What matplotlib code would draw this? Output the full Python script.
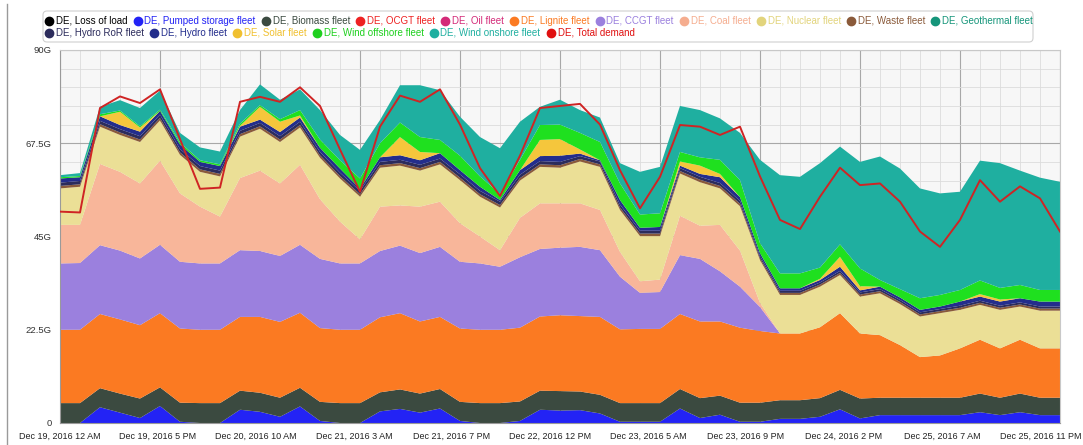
import matplotlib
matplotlib.use("Agg")
import matplotlib.pyplot as plt
from matplotlib.lines import Line2D
from matplotlib.patches import FancyBboxPatch
from matplotlib.transforms import IdentityTransform, ScaledTranslation
import numpy as np
import pandas as pd

plt.rcParams['font.family'] = ['Liberation Sans', 'DejaVu Sans']

# one sample every fifth of a tick interval, Dec 19 00:00 .. Dec 25 23:00
times = pd.date_range('2016-12-19 00:00', '2016-12-25 23:00', periods=51)

# generation per fleet in GW (stack order, bottom first)
pumped = [0, 0, 3.8, 2.5, 1.2, 4.1, 0.3, 0, 0, 3.2, 2.7, 1.5, 4.0,
          0.5, 0, 0, 2.8, 3.4, 2.5, 3.5, 0.5, 0, 0, 0.5, 3.2, 3.0,
          3.1, 2.3, 0.3, 0.3, 0.3, 3.5, 1.2, 2.0, 0.3, 0.3, 1.0, 1.0,
          1.5, 3.3, 1.1, 1.9, 1.9, 1.9, 1.9, 1.9, 2.6, 1.9, 2.6, 1.9, 1.9]
biomass = [4.8, 4.8, 4.6, 4.6, 4.7, 4.5, 4.6, 4.8, 4.8, 4.6, 4.6, 4.6, 4.5,
           4.6, 4.8, 4.8, 4.6, 4.7, 4.6, 4.7, 4.6, 4.8, 4.8, 4.7, 4.6, 4.7,
           4.5, 4.5, 4.5, 4.5, 4.5, 4.7, 4.8, 4.6, 4.6, 4.6, 4.5, 4.5,
           4.5, 4.7, 4.8, 4.2, 4.2, 4.2, 4.2, 4.2, 4.5, 4.2, 4.5, 4.2, 4.2]
lignite = [17.7, 17.7, 17.9, 17.9, 17.7, 17.9, 17.9, 17.7, 17.7, 17.8, 18.3, 18.3, 18.1,
           17.8, 17.7, 17.7, 18.1, 18.4, 17.4, 17.4, 17.7, 17.7, 17.7, 17.8, 17.9, 18.3,
           18.2, 18.8, 17.8, 17.9, 17.9, 18.1, 18.5, 17.9, 18.1, 17.3, 16.1, 16.1,
           17.1, 18.5, 15.7, 15.1, 12.7, 9.8, 10.2, 11.9, 13.0, 11.9, 13.0, 11.9, 11.9]
ccgt = [16.0, 16.1, 16.6, 16.6, 16.1, 16.5, 16.1, 16.0, 16.0, 16.1, 15.9, 15.9, 16.4,
        16.7, 16.0, 16.0, 16.0, 16.3, 16.5, 16.9, 16.1, 16.0, 15.2, 17.0, 16.3, 16.3,
        16.7, 16.1, 12.7, 8.7, 8.9, 14.2, 15.1, 12.1, 9.9, 5.8, 0, 0,
        0, 0, 0, 0, 0, 0, 0, 0, 0, 0, 0, 0, 0]
coal = [9.3, 9.2, 19.6, 19.0, 18.1, 20.3, 16.5, 13.7, 11.3, 17.4, 19.4, 17.5, 19.3,
        14.4, 10.1, 5.8, 10.7, 9.7, 11.2, 10.9, 9.3, 6.5, 4.0, 9.5, 11.0, 10.7,
        10.5, 9.7, 6.0, 2.8, 3.0, 9.5, 8.0, 11.2, 8.7, 1.0, 0, 0,
        0, 0, 0, 0, 0, 0, 0, 0, 0, 0, 0, 0, 0]
nuclear = [8.8, 9.2, 9.0, 8.9, 10.0, 9.7, 9.3, 8.4, 9.7, 10.0, 10.1, 10.0, 9.0,
           10.0, 10.4, 10.3, 9.4, 9.6, 8.7, 9.0, 10.4, 9.6, 10.3, 9.0, 8.8, 8.6,
           10.1, 10.4, 10.1, 10.9, 10.5, 10.2, 10.5, 8.8, 10.7, 10.3, 9.3, 9.3,
           9.8, 9.2, 8.9, 10.1, 9.9, 9.8, 10.2, 9.3, 8.4, 9.3, 8.0, 9.1, 9.1]
waste = [0.6] * 35 + [0.5] * 16
hydro_ror = [0.8] * 26 + [0.7] * 9 + [0.5] * 16
hydro = [1.0, 0.9, 1.1, 1.0, 1.1, 0.9, 1.1, 1.0, 1.1, 1.0, 0.8, 1.0, 1.0,
         1.0, 1.0, 0.5, 1.1, 1.1, 1.1, 1.3, 1.0, 1.0, 0.4, 1.1, 1.2, 1.5,
         0.6, 0.3, 1.1, 0.7, 0.9, 0.6, 0.7, 1.4, 0.9, 0.7, 0.6, 0.6,
         0.6, 1.0, 0.5, 0.6, 0.6, 0.6, 0.6, 1.0, 1.0, 1.0, 1.0, 1.2, 1.2]
solar = [0, 0, 0, 3.2, 1.0, 0, 0, 0, 0, 0.2, 3.1, 2.5, 0.5,
         0, 0, 0, 0, 4.4, 2.0, 0, 0, 0, 0, 0, 3.9, 4.0,
         1.0, 0, 0, 0, 0, 1.0, 2.0, 0.8, 0, 0, 0, 0,
         0.3, 2.4, 1.0, 0, 0, 0, 0, 0, 0.6, 0.5, 0, 0, 0]
wind_offshore = [0.3, 0.3, 0.5, 0.3, 0.3, 0.3, 0.5, 0.4, 0.4, 0.5, 0.4, 0.6, 1.3,
                 2.0, 2.0, 2.5, 3.4, 3.5, 3.6, 3.2, 3.5, 2.5, 1.5, 2.5, 3.6, 3.5,
                 4.0, 4.4, 4.0, 3.2, 3.3, 2.3, 2.0, 3.4, 4.1, 2.4, 3.6, 3.6,
                 2.7, 3.0, 4.3, 1.6, 2.0, 2.8, 2.8, 2.8, 3.3, 2.8, 3.2, 2.8, 2.8]
wind_onshore = [0.5, 0.7, 1.8, 2.5, 4.4, 4.6, 2.3, 3.1, 3.1, 3.3, 5.0, 4.7, 5.0,
                7.1, 6.1, 6.9, 5.6, 9.0, 12.5, 12.0, 9.4, 9.5, 11.0, 9.2, 4.4, 6.0,
                5.5, 5.9, 4.9, 10.3, 11.2, 11.1, 11.4, 10.0, 11.4, 20.1, 23.7, 23.3,
                25.2, 23.6, 25.7, 29.8, 29.1, 26.5, 24.5, 23.7, 28.9, 30.1, 27.6, 27.1, 26.1]
demand = [51.0, 50.8, 76.0, 78.8, 77.2, 80.5, 68.5, 56.5, 56.8, 77.5, 78.7, 77.5, 81.0,
          76.5, 66.0, 55.8, 71.5, 79.0, 77.5, 80.5, 72.0, 61.5, 54.8, 64.5, 76.0, 76.5,
          77.0, 72.0, 61.0, 51.8, 59.4, 71.9, 71.5, 69.5, 71.5, 59.5, 49.0, 46.8,
          54.6, 61.6, 57.4, 57.8, 53.4, 46.2, 42.5, 49.0, 58.6, 53.4, 57.1, 54.2, 46.2]

stack = [pumped, biomass, lignite, ccgt, coal, nuclear, waste, hydro_ror, hydro,
         solar, wind_offshore, wind_onshore]
stack_colors = ['#2323f5', '#3b4a40', '#fb7a22', '#9b80de', '#f8b69a', '#ebdf96',
                '#8a5a3a', '#2c2c5c', '#232d8c', '#f5c63c', '#1fe01f', '#1fafa0']

legend_rows = [
    [('DE, Loss of load', '#000000'), ('DE, Pumped storage fleet', '#2323f5'),
     ('DE, Biomass fleet', '#3b4a40'), ('DE, OCGT fleet', '#ee2222'),
     ('DE, Oil fleet', '#d42a78'), ('DE, Lignite fleet', '#fb7a22'),
     ('DE, CCGT fleet', '#9b80de'), ('DE, Coal fleet', '#f5ad8f'),
     ('DE, Nuclear fleet', '#e2d47c'), ('DE, Waste fleet', '#8a5a3a'),
     ('DE, Geothermal fleet', '#15957a')],
    [('DE, Hydro RoR fleet', '#2c2c5c'), ('DE, Hydro fleet', '#232d8c'),
     ('DE, Solar fleet', '#f0c030'), ('DE, Wind offshore fleet', '#1fd01f'),
     ('DE, Wind onshore fleet', '#1fafa0'), ('DE, Total demand', '#e01010')],
]

W, H = 1083, 445
fig = plt.figure(figsize=(W / 100, H / 100), dpi=100)
fig.patch.set_facecolor('white')
ax = fig.add_axes([60 / W, 22 / H, 1000 / W, 373 / H])
ax.set_facecolor('#f7f7f7')

ax.stackplot(times, *stack, colors=stack_colors, linewidth=0, zorder=2)
ax.plot(times, demand, color='#cf2424', lw=1.4, zorder=3)

ax.set_xlim(times[0], times[-1])
ax.set_ylim(0, 90)

tick_times = pd.date_range(times[0], times[-1], periods=11)


def fmt(t):
    t = t.ceil('h')
    h12 = t.hour % 12 or 12
    return f"{t:%b} {t.day}, {t.year} {h12} {'AM' if t.hour < 12 else 'PM'}"


ax.set_xticks(tick_times)
ax.set_xticklabels([fmt(t) for t in tick_times])
ax.set_xticks(times, minor=True)
ax.set_yticks([0, 22.5, 45, 67.5, 90])
ax.set_yticklabels(['0', '22.5G', '45G', '67.5G', '90G'])
ax.set_yticks(np.arange(0, 90.1, 4.5), minor=True)

ax.tick_params(which='both', length=0)
ax.tick_params(axis='x', labelsize=6.5, colors='#222222', pad=6)
ax.tick_params(axis='y', labelsize=6.8, colors='#333333', pad=6)
ax.set_axisbelow(True)
ax.grid(which='minor', color='#dcdcdc', lw=0.6, zorder=0)
ax.grid(which='major', color='#a8a8a8', lw=0.8, zorder=1)
for side in ['left', 'bottom']:
    ax.spines[side].set_color('#9a9a9a')
for side in ['top', 'right']:
    ax.spines[side].set_color('#c8c8c8')

# date labels sit a little left of their grid lines, as in the original;
# the last one starts just before the edge instead of being centred on it
labels = ax.get_xticklabels()
for k, lab in enumerate(labels[:-1]):
    lab.set_transform(lab.get_transform() +
                      ScaledTranslation(-2 * k / 100, 0, fig.dpi_scale_trans))
labels[-1].set_horizontalalignment('left')
labels[-1].set_transform(labels[-1].get_transform() +
                         ScaledTranslation(-0.6, 0, fig.dpi_scale_trans))

# legend laid out left to right like the original
ident = IdentityTransform()
fig.add_artist(FancyBboxPatch((43, H - 42), 990, 31,
                              boxstyle='round,pad=0,rounding_size=4',
                              fc='white', ec='#d0d0d0', lw=0.8, transform=ident))
fig.add_artist(Line2D([7, 7], [0, H - 4], color='#9a9a9a', lw=1, transform=ident))
renderer = fig.canvas.get_renderer()
for row, y in zip(legend_rows, [H - 20.5, H - 32.5]):
    x = 49
    for name, color in row:
        fig.add_artist(Line2D([x], [y], marker='o', ms=6, color=color,
                              mec=color, transform=ident))
        t = fig.text(x + 7, y, name, color=color, fontsize=7.0,
                     ha='left', va='center', transform=ident)
        x += 7 + t.get_window_extent(renderer).width + 10

fig.savefig('out.png', dpi=100)
